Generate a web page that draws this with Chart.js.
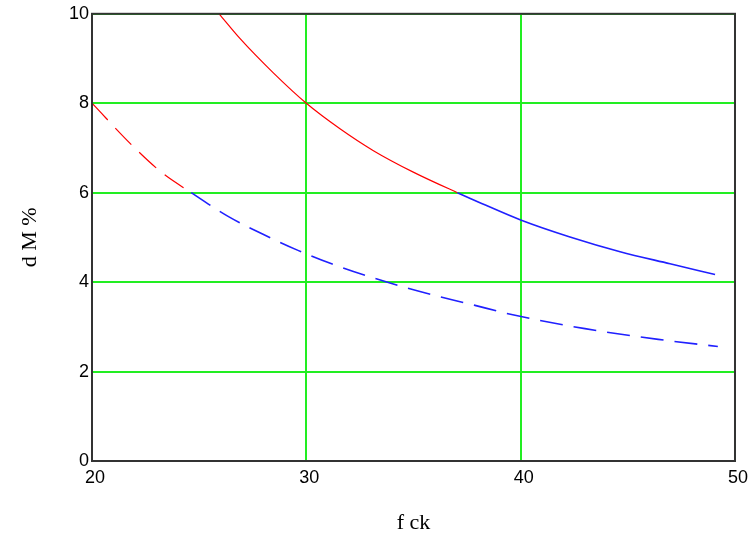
<!DOCTYPE html>
<html>
<head>
<meta charset="utf-8">
<script src="https://cdn.jsdelivr.net/npm/chart.js@4.4.0/dist/chart.umd.min.js"></script>
<style>
  html, body { margin: 0; padding: 0; background: #fff; }
  #wrap { width: 751px; height: 539px; }
</style>
</head>
<body>
<div id="wrap"><canvas id="chart" width="751" height="539"></canvas></div>
<script>
// values
var xTicks = [20, 30, 40, 50]
var yTicks = [0, 2, 4, 6, 8, 10]

// solid curve (red above 6 %, blue below)
var fckSolid = [25.93, 26.9, 28.46, 30, 31.57, 33.13, 34.99, 37.05, 38.18, 40, 42.3, 44.64, 46.97, 49.07]
var dMSolid  = [10, 9.45, 8.68, 8.0, 7.43, 6.94, 6.46, 6.0, 5.76, 5.39, 5.01, 4.68, 4.41, 4.17]

// dashed curve
var fckDash = [20, 21.91, 23.23, 24.63, 26.35, 27.98, 29.61, 31.18, 34.53, 37.87, 39.63, 43.0, 46.42, 49.2]
var dMDash  = [8.0, 7.04, 6.46, 6.0, 5.47, 5.07, 4.71, 4.41, 3.89, 3.48, 3.27, 2.96, 2.72, 2.56]

var limit = 6

function pts(xs, ys) {
  return xs.map(function(x, i) { return {x: x, y: ys[i]} })
}

function series(xs, ys, dash) {
  return {
    data: pts(xs, ys),
    borderColor: '#2020ff',
    borderWidth: 1.5,
    borderDash: dash,
    pointRadius: 0,
    fill: false,
    cubicInterpolationMode: 'monotone',
    segment: {
      borderColor: function(c) { return c.p1.parsed.y >= limit - 1e-6 ? '#ff0000' : '#2020ff' },
      borderWidth: function(c) { return c.p1.parsed.y >= limit - 1e-6 ? 1.2 : 1.6 }
    }
  }
}

var frame = {
  id: 'frame',
  afterDraw: function(chart) {
    var a = chart.chartArea
    var ctx = chart.ctx
    ctx.save()
    ctx.strokeStyle = '#333'
    ctx.lineWidth = 2
    ctx.strokeRect(a.left, a.top, a.right - a.left, a.bottom - a.top)
    ctx.restore()
  }
}

var tickFont = {family: 'Liberation Sans', size: 18}
var titleFont = {family: 'Liberation Serif', size: 22}

new Chart(document.getElementById('chart').getContext('2d'), {
  type: 'line',
  data: {
    datasets: [
      series(fckSolid, dMSolid, []),
      series(fckDash, dMDash, [23, 11])
    ]
  },
  options: {
    responsive: false,
    animation: false,
    layout: {padding: {top: 13, right: 16, left: 0, bottom: 0}},
    plugins: {legend: {display: false}, tooltip: {enabled: false}},
    scales: {
      x: {
        type: 'linear',
        min: 20,
        max: 50,
        afterBuildTicks: function(s) { s.ticks = xTicks.map(function(v) { return {value: v} }) },
        afterFit: function(s) { s.height = 78 },
        grid: {color: '#22ee22', lineWidth: 2, drawTicks: false},
        border: {display: false},
        ticks: {color: '#000', font: tickFont, padding: 6, labelOffset: 3, maxRotation: 0},
        title: {display: true, text: 'f ck', color: '#000', font: titleFont, padding: {top: 0, bottom: 3}}
      },
      y: {
        min: 0,
        max: 10,
        afterBuildTicks: function(s) { s.ticks = yTicks.map(function(v) { return {value: v} }) },
        afterFit: function(s) { s.width = 92 },
        grid: {color: '#22ee22', lineWidth: 2, drawTicks: false},
        border: {display: false},
        ticks: {color: '#000', font: tickFont, padding: 3},
        title: {display: true, text: 'd M %', color: '#000', font: titleFont, padding: {top: 17, bottom: 0}}
      }
    }
  },
  plugins: [frame]
})
</script>
</body>
</html>
